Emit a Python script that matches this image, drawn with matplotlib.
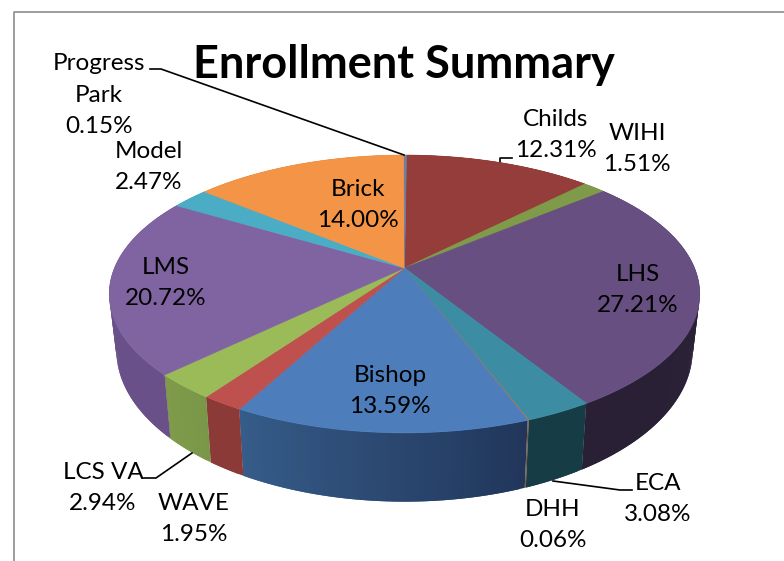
import numpy as np
import matplotlib
matplotlib.use("Agg")
import matplotlib.pyplot as plt
from matplotlib.collections import PolyCollection
from matplotlib.colors import to_rgb

# data, clockwise from 12 o'clock
schools = ["Childs", "WIHI", "LHS", "ECA", "DHH", "Bishop", "WAVE",
           "LCS VA", "LMS", "Model", "Brick", "Progress\nPark"]
percent = [12.31, 1.51, 27.21, 3.08, 0.06, 13.59, 1.95, 2.94, 20.72, 2.47, 14.00, 0.15]

top_colors = ["#953D3A", "#7F9A48", "#674F82", "#3C8CA3", "#9A7A5A", "#4D7EBB",
              "#BE504D", "#9BBB59", "#8064A2", "#4BACC6", "#F39446", "#6F7F9F"]
# side wall colours at the start and end of each slice (clockwise)
wall_start = ["#6A2A28", "#5A6E32", "#2C2238", "#163C46", "#7A5A40", "#21365A",
              "#8C3A38", "#7A9648", "#6A5088", "#3A8CA0", "#C87838", "#5A6A80"]
wall_end = ["#6A2A28", "#5A6E32", "#2A2036", "#163C46", "#7A5A40", "#365C8A",
            "#8C3A38", "#7E9A4A", "#6A5088", "#3A8CA0", "#C87838", "#5A6A80"]

# centre of each label
label_x = [556, 637, 638, 658, 553, 390, 194, 103, 166, 149, 358, 99]
label_y = [135, 149, 290, 499, 525, 391, 519, 488, 283, 167, 205, 95]

# perspective of the pie
cx, cy = 404.5, 268
rx, ry, persp = 290, 134, 0.187
bottom_x, bottom_y, bottom_c = 0.976, 1.09, 322
first_angle = 0.008


def project(theta, bottom=False):
    u = np.sin(theta)
    v = -np.cos(theta)
    d = 1 - persp * v
    x = rx * u / d
    y = ry * v / d
    if bottom:
        return cx + bottom_x * x, bottom_c + bottom_y * y
    return cx + x, cy + y


fig = plt.figure(figsize=(7.84, 5.61), dpi=100)
ax = fig.add_axes([0, 0, 1, 1])
ax.set_xlim(0, 784)
ax.set_ylim(561, 0)
ax.axis("off")

edges = first_angle + np.concatenate([[0], np.cumsum(percent)]) / sum(percent) * 2 * np.pi

# outer wall first, the top faces cover the back of it
# quads run on over the next one so no seams show between them
for i in range(len(percent)):
    n = max(int((edges[i + 1] - edges[i]) / 0.015), 1)
    t = np.linspace(edges[i], edges[i + 1], n + 1)
    xt, yt = project(t)
    xb, yb = project(t, bottom=True)
    c0 = np.array(to_rgb(wall_start[i]))
    c1 = np.array(to_rgb(wall_end[i]))
    polys = []
    cols = []
    for j in range(n):
        k = min(j + 2, n)
        polys.append([(xt[j], yt[j]), (xt[k], yt[k]), (xb[k], yb[k]), (xb[j], yb[j])])
        cols.append(tuple(c0 + (c1 - c0) * (j + 0.5) / n))
    ax.add_collection(PolyCollection(polys, facecolors=cols, edgecolors="none", linewidths=0, zorder=2))

# top faces
for i in range(len(percent)):
    n = max(int((edges[i + 1] - edges[i]) / 0.01), 2)
    t = np.linspace(edges[i], edges[i + 1], n + 1)
    xt, yt = project(t)
    pts = np.column_stack([np.r_[cx, xt], np.r_[cy, yt]])
    ax.fill(pts[:, 0], pts[:, 1], color=top_colors[i], linewidth=0.5, zorder=3)

# frame around the chart
ax.plot([14, 14, 784], [561, 12, 12], color="#8C8C8C", linewidth=1.2, zorder=2)

# leader lines
ax.plot([150, 161, 404], [69, 69, 155], color="black", linewidth=1.2, zorder=4)
ax.plot([500, 500, 512], [166, 158, 158], color="black", linewidth=1.2, zorder=1)
ax.plot([553, 620, 632], [481, 490, 490], color="black", linewidth=1.2, zorder=4)
ax.plot([192, 156, 144], [453, 478, 478], color="black", linewidth=1.2, zorder=4)

font = "Lato"
for name, val, x, y in zip(schools, percent, label_x, label_y):
    ax.text(x, y, f"{name}\n{val:.2f}%", ha="center", va="center", fontsize=17.5,
            family=font, color="black", linespacing=1.6, zorder=5)

ax.text(404, 65, "Enrollment Summary", ha="center", va="center", fontsize=32.5,
        family=font, weight="bold", color="black", zorder=5)

fig.savefig("out.png", dpi=100)
